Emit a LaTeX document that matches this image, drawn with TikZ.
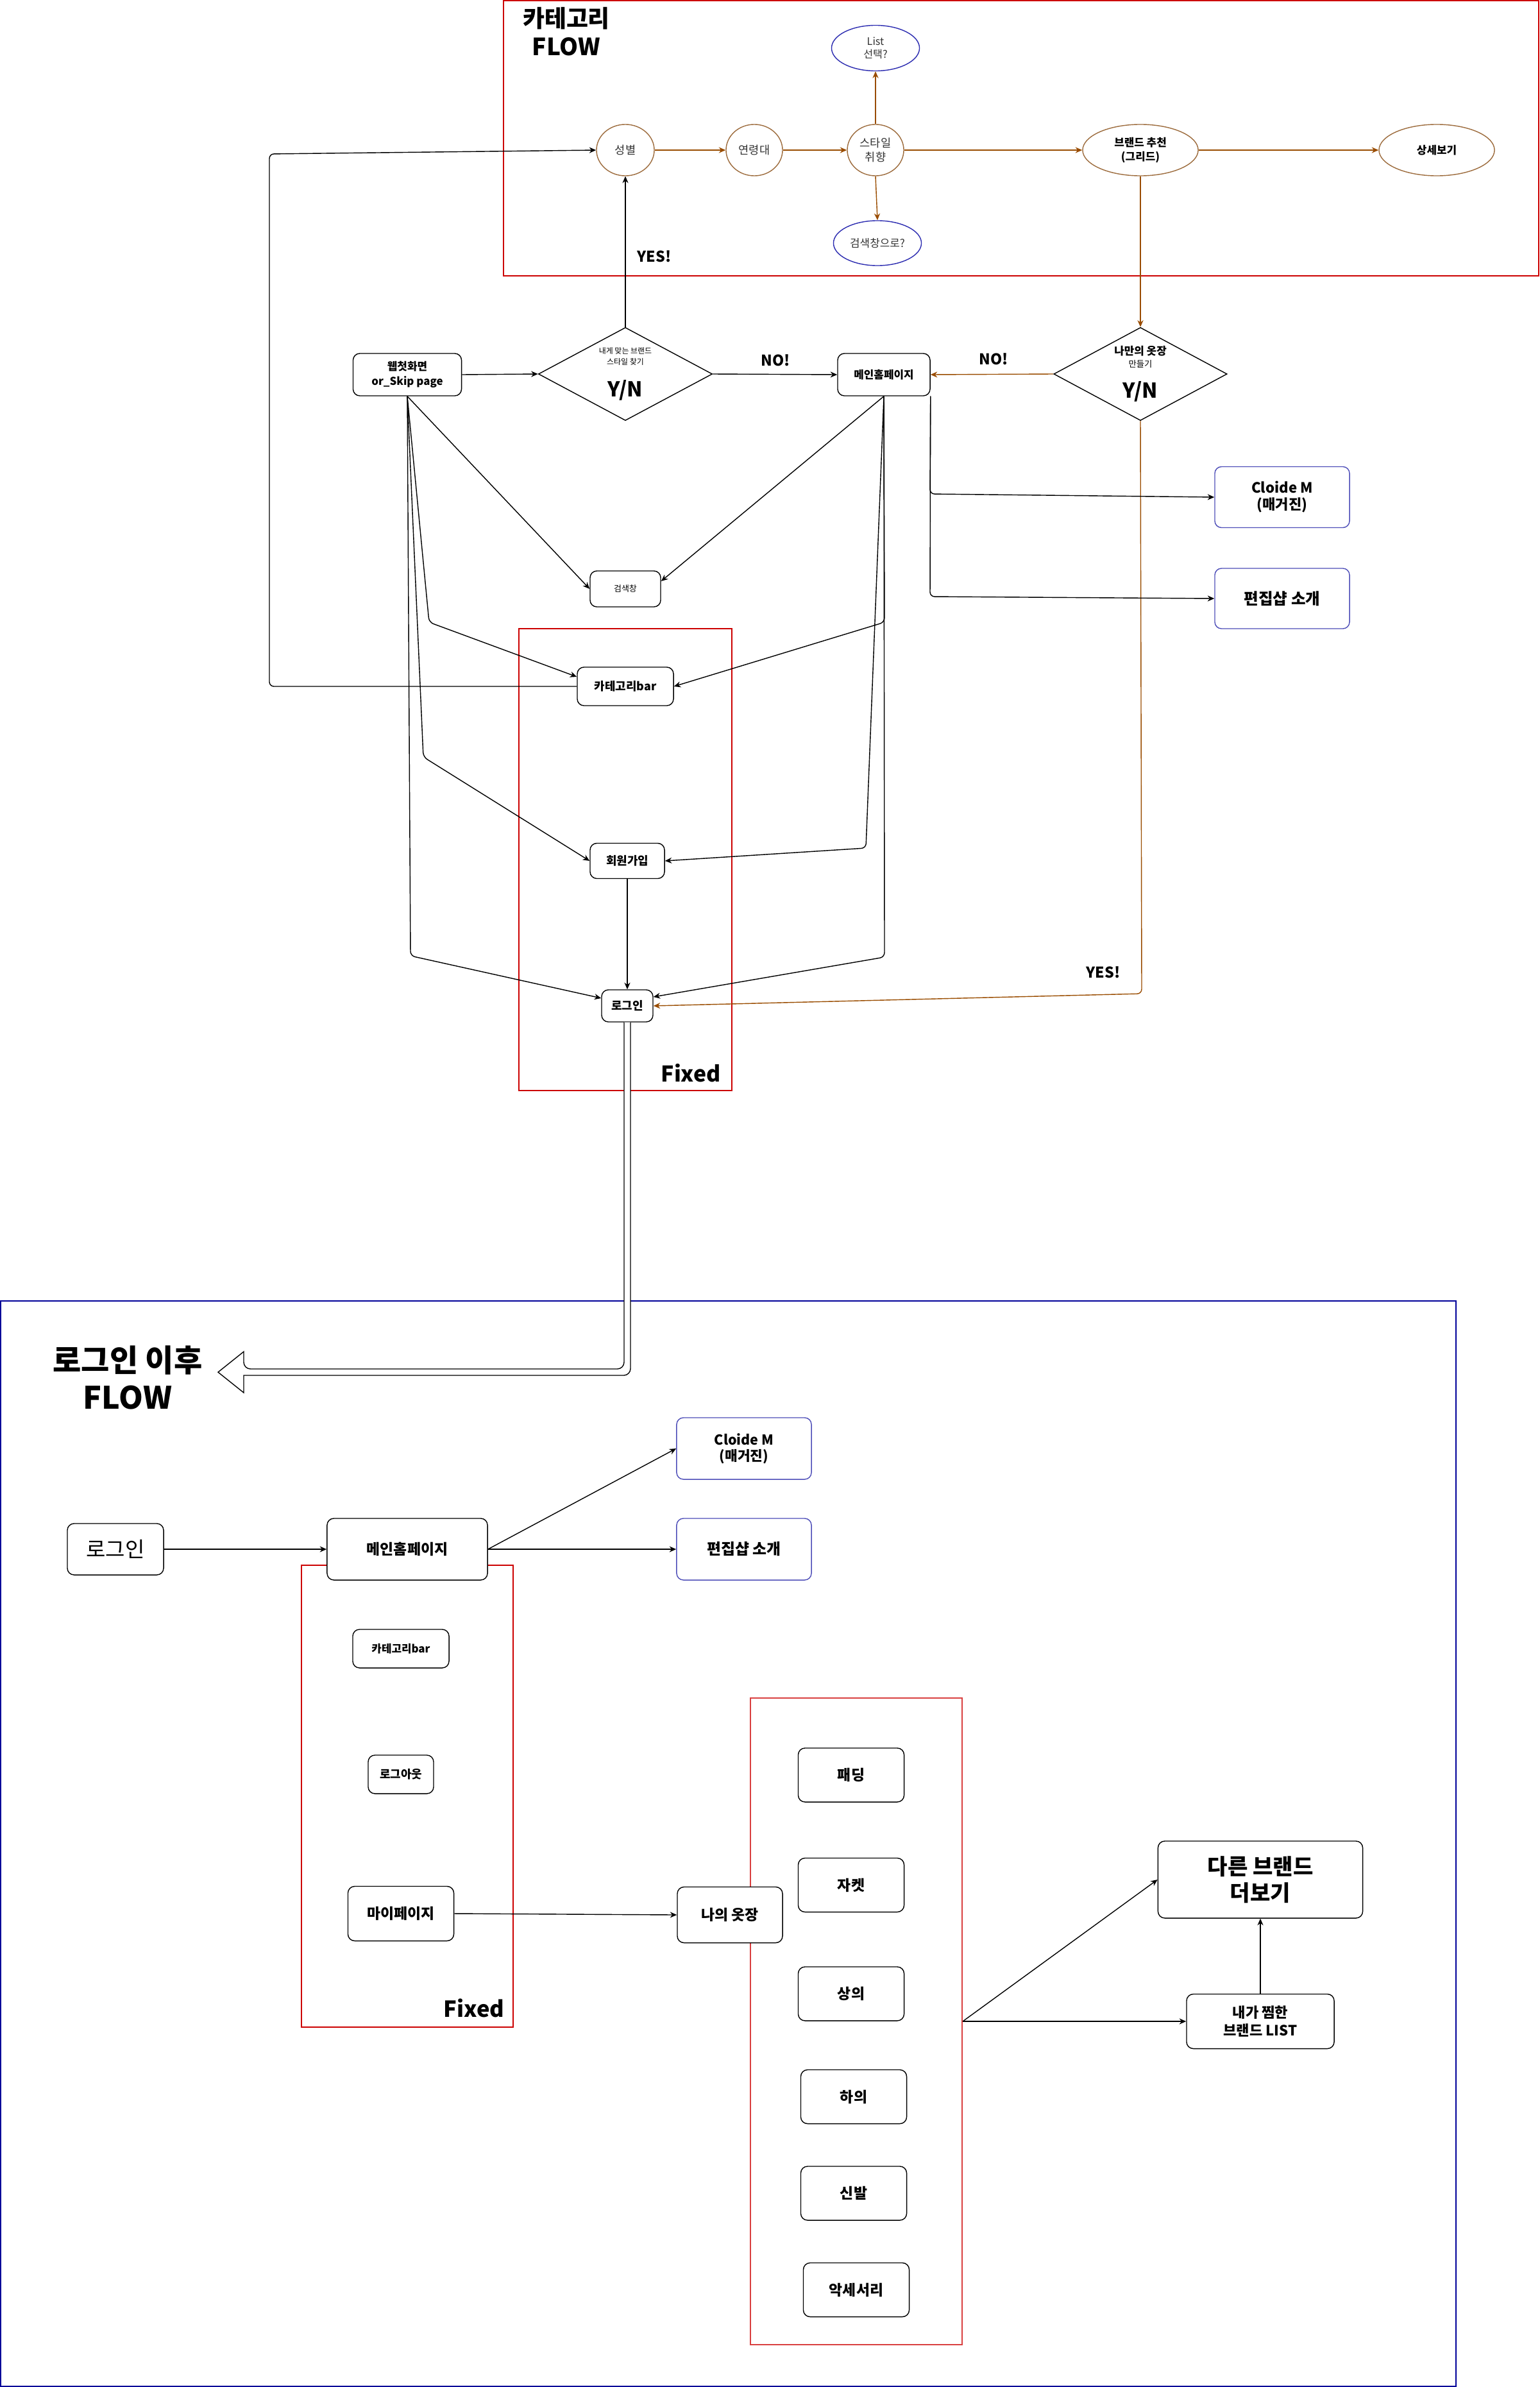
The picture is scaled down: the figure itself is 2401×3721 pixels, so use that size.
\documentclass[tikz,border=0pt]{standalone}
\usepackage{fontspec}
\setmainfont{Noto Sans CJK KR}
\usetikzlibrary{arrows.meta,positioning,shapes.geometric,calc}

\definecolor{framered}{HTML}{CC0000}
\definecolor{framepink}{HTML}{D94040}
\definecolor{frameblue}{HTML}{000099}
\definecolor{boxblue}{HTML}{4D4DB8}
\definecolor{ovalblue}{HTML}{2B2BB0}
\definecolor{ovalbrown}{HTML}{9C6B3C}
\definecolor{arrowbrown}{HTML}{994C00}
\definecolor{ovaltext}{HTML}{333333}

\newcommand{\fsz}[2]{\fontsize{#1}{#2}\selectfont}

\begin{document}
\begin{tikzpicture}[x=0.01cm,y=-0.01cm,line width=0.4pt,
    >={Stealth[length=3pt,width=2.6pt]},
    box/.style={draw,rounded corners=3pt,fill=white,align=center,inner sep=1pt},
    bluebox/.style={box,draw=boxblue},
    oval/.style={ellipse,draw=ovalbrown,fill=white,align=center,inner sep=0pt,text=ovaltext},
    blueoval/.style={oval,draw=ovalblue},
    decide/.style={diamond,draw,fill=white,align=center,inner sep=0pt,shape aspect=1.87},
    redframe/.style={draw=framered,line width=0.5pt},
    flow/.style={->,rounded corners=2pt},
    brownflow/.style={->,draw=arrowbrown},
    tag/.style={font=\bfseries\fsz{6.6pt}{8pt}}]

      \useasboundingbox (0,0) rectangle (2401,3721);

      \draw[redframe] (785,1) rectangle (2399,430);
      \draw[redframe] (809,980) rectangle (1141,1700);
      \draw[frameblue,line width=0.6pt] (1,2028) rectangle (2270,3720);
      \draw[redframe] (470,2440) rectangle (800,3160);
      \node[draw=framepink,line width=0.5pt,minimum width=3.3cm,minimum height=10.08cm,inner sep=0pt] (wardrobe) at (1335,3151) {};

      \node[align=center,font=\bfseries\fsz{10.5pt}{12.5pt}] (cattitle) at (883,49) {카테고리\\FLOW};

      \node[oval,minimum width=0.9cm,minimum height=0.8cm,font=\fsz{5pt}{6pt}] (seong) at (975,234) {성별};
      \node[oval,minimum width=0.88cm,minimum height=0.8cm,font=\fsz{5pt}{6pt}] (age) at (1176,234) {연령대};
      \node[oval,minimum width=0.88cm,minimum height=0.8cm,font=\fsz{5pt}{6.4pt}] (style) at (1365,234) {스타일\\취향};
      \node[blueoval,minimum width=1.37cm,minimum height=0.71cm,font=\fsz{4.6pt}{5.8pt}] (list) at (1365,75) {List\\선택?};
      \node[blueoval,minimum width=1.37cm,minimum height=0.7cm,font=\fsz{4.8pt}{6pt}] (searchq) at (1368,379) {검색창으로?};
      \node[oval,minimum width=1.8cm,minimum height=0.8cm,text=black,font=\bfseries\fsz{4.8pt}{6.2pt}] (brand) at (1778,234) {브랜드 추천\\(그리드)};
      \node[oval,minimum width=1.8cm,minimum height=0.8cm,text=black,font=\bfseries\fsz{4.8pt}{6pt}] (detail) at (2240,234) {상세보기};

      \draw[brownflow] (seong.east) -- (age.west);
      \draw[brownflow] (age.east) -- (style.west);
      \draw[brownflow] (style.east) -- (brand.west);
      \draw[brownflow] (brand.east) -- (detail.west);
      \draw[brownflow] (style.north) -- (list.south);
      \draw[brownflow] (style.south) -- (searchq.north);

      \node[box,minimum width=1.69cm,minimum height=0.66cm,font=\bfseries\fsz{4.8pt}{6.6pt}] (web) at (635,584) {웹첫화면\\or\_Skip page};
      \node[decide,minimum width=2.71cm,minimum height=1.45cm,font=\fsz{3.4pt}{4.8pt}] (find) at (975,583)
        {내게 맞는 브랜드\\스타일 찾기\\[5.4pt]\bfseries\fsz{9.1pt}{4.8pt}Y/N};
      \node[box,minimum width=1.44cm,minimum height=0.66cm,font=\bfseries\fsz{4.8pt}{6pt}] (main) at (1378,584) {메인홈페이지};
      \node[decide,minimum width=2.7cm,minimum height=1.45cm,font=\fsz{3.8pt}{5.4pt}] (closet) at (1778,583)
        {\bfseries\fsz{4.8pt}{5.4pt}나만의 옷장\\만들기\\[5pt]\bfseries\fsz{9.1pt}{5.4pt}Y/N};
      \node[box,minimum width=1.1cm,minimum height=0.56cm,font=\fsz{3.7pt}{4.6pt}] (search) at (975,918) {검색창};
      \node[bluebox,minimum width=2.1cm,minimum height=0.95cm,font=\bfseries\fsz{6.3pt}{7.4pt}] (cloide) at (1999,775) {Cloide M\\(매거진)};
      \node[bluebox,minimum width=2.1cm,minimum height=0.94cm,font=\bfseries\fsz{7pt}{8pt}] (edit) at (1999,933) {편집샵 소개};

      \node[box,minimum width=1.5cm,minimum height=0.6cm,font=\bfseries\fsz{5.1pt}{6pt}] (catbar) at (975,1070) {카테고리bar};
      \node[box,minimum width=1.16cm,minimum height=0.55cm,font=\bfseries\fsz{5.1pt}{6pt}] (join) at (978,1342) {회원가입};
      \node[box,minimum width=0.8cm,minimum height=0.5cm,font=\bfseries\fsz{5.1pt}{6pt}] (login) at (978,1568) {로그인};
      \node[font=\bfseries\fsz{9.6pt}{11pt}] (fixedtop) at (1077,1673) {Fixed};

      \node[tag] (yesup) at (1020,400) {YES!};
      \node[tag] (nomain) at (1209,562) {NO!};
      \node[tag] (nocloset) at (1549,560) {NO!};
      \node[tag] (yeslogin) at (1720,1516) {YES!};

      \draw[flow] (web.east) -- (find.west);
      \draw[flow] (find.east) -- (main.west);
      \draw[flow] (find.north) -- (seong.south);
      \draw[brownflow] (brand.south) -- (closet.north);
      \draw[brownflow] (closet.west) -- (main.east);
      \draw[brownflow,rounded corners=2pt] (closet.south) -- (1780,1549) -- (login.east);

      \draw[flow] (web.south) -- (search.west);
      \draw[flow] (web.south) -- (669,970) -- ($(catbar.west)+(0,-15)$);
      \draw[flow] (web.south) -- (660,1180) -- (join.west);
      \draw[flow] (web.south) -- (640,1490) -- ($(login.west)+(0,-12)$);
      \draw[flow] (main.south) -- ($(search.east)+(0,-12)$);
      \draw[flow] (main.south) -- (1379,970) -- (catbar.east);
      \draw[flow] (main.south) -- (1350,1322) -- (join.east);
      \draw[flow] (main.south) -- (1379,1492) -- ($(login.east)+(0,-14)$);
      \draw[flow] (join.south) -- (login.north);
      \draw[flow] (catbar.west) -| (420,240) -- (seong.west);
      \draw[flow] (main.south east) -- (1450,770) -- (cloide.west);
      \draw[flow] (main.south east) -- (1450,930) -- (edit.west);

      \coordinate (flowtip) at (340,2139);
      \draw[fill=white] ($(login.south)+(-5,0)$) [rounded corners=3pt] |- ($(flowtip)+(40,-5)$)
        [sharp corners] -- ($(flowtip)+(40,-32)$) -- (flowtip) -- ($(flowtip)+(40,32)$) -- ($(flowtip)+(40,5)$)
        [rounded corners=3pt] -| ($(login.south)+(5,0)$);

      \node[align=center,font=\bfseries\fsz{13.7pt}{16.5pt}] (aftertitle) at (199,2147) {로그인 이후\\FLOW};

      \node[box,minimum width=1.5cm,minimum height=0.8cm,font=\fsz{9.4pt}{11pt}] (loginb) at (180,2415) {로그인};
      \node[box,minimum width=2.5cm,minimum height=0.96cm,font=\bfseries\fsz{6.5pt}{7.6pt}] (mainb) at (635,2415) {메인홈페이지};
      \node[bluebox,minimum width=2.1cm,minimum height=0.96cm,font=\bfseries\fsz{6.1pt}{7.2pt}] (cloideb) at (1160,2258) {Cloide M\\(매거진)};
      \node[bluebox,minimum width=2.1cm,minimum height=0.96cm,font=\bfseries\fsz{6.8pt}{8pt}] (editb) at (1160,2415) {편집샵 소개};

      \node[box,minimum width=1.5cm,minimum height=0.6cm,font=\bfseries\fsz{4.8pt}{6pt}] (catbarb) at (625,2570) {카테고리bar};
      \node[box,minimum width=1.02cm,minimum height=0.6cm,font=\bfseries\fsz{5.1pt}{6pt}] (logout) at (625,2766) {로그아웃};
      \node[box,minimum width=1.65cm,minimum height=0.85cm,font=\bfseries\fsz{6.5pt}{7.6pt}] (mypage) at (625,2983) {마이페이지};
      \node[font=\bfseries\fsz{9.8pt}{11pt}] (fixedbottom) at (739,3130) {Fixed};
      \node[box,minimum width=1.64cm,minimum height=0.87cm,font=\bfseries\fsz{6.5pt}{7.6pt}] (closetb) at (1138,2985) {나의 옷장};

      \node[box,minimum width=1.65cm,minimum height=0.84cm,font=\bfseries\fsz{6.5pt}{7.6pt}] (padding) at (1327,2767) {패딩};
      \node[box,minimum width=1.65cm,minimum height=0.84cm,font=\bfseries\fsz{6.5pt}{7.6pt}] (jacket) [below=0.86cm of padding] {자켓};
      \node[box,minimum width=1.65cm,minimum height=0.84cm,font=\bfseries\fsz{6.5pt}{7.6pt}] (top) [below=0.84cm of jacket] {상의};
      \node[box,minimum width=1.65cm,minimum height=0.84cm,font=\bfseries\fsz{6.5pt}{7.6pt}] (pants) [below=0.75cm of top,xshift=0.04cm] {하의};
      \node[box,minimum width=1.65cm,minimum height=0.84cm,font=\bfseries\fsz{6.5pt}{7.6pt}] (shoes) [below=0.65cm of pants] {신발};
      \node[box,minimum width=1.65cm,minimum height=0.84cm,font=\bfseries\fsz{6.5pt}{7.6pt}] (acc) [below=0.65cm of shoes,xshift=0.04cm] {악세서리};

      \node[box,minimum width=3.19cm,minimum height=1.2cm,font=\bfseries\fsz{9.7pt}{11.6pt}] (more) at (1965,2930) {다른 브랜드\\더보기};
      \node[box,minimum width=2.3cm,minimum height=0.85cm,font=\bfseries\fsz{6.3pt}{7.8pt}] (liked) at (1965,3151) {내가 찜한\\브랜드 LIST};

      \draw[flow] (loginb.east) -- (mainb.west);
      \draw[flow] (mainb.east) -- (cloideb.west);
      \draw[flow] (mainb.east) -- (editb.west);
      \draw[flow] (mypage.east) -- (closetb.west);
      \draw[flow] (wardrobe.east) -- (more.west);
      \draw[flow] (wardrobe.east) -- (liked.west);
      \draw[flow] (liked.north) -- (more.south);
\end{tikzpicture}
\end{document}
